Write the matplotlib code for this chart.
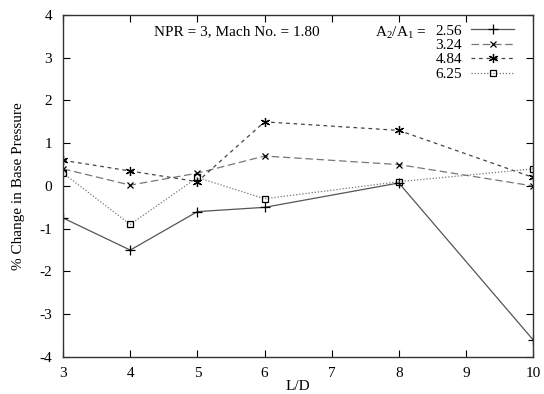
import matplotlib
matplotlib.use("Agg")
import matplotlib.pyplot as plt

plt.rcParams["font.family"] = ["Liberation Serif", "DejaVu Serif"]
plt.rcParams["mathtext.fontset"] = "custom"
plt.rcParams["mathtext.rm"] = "Liberation Serif"
plt.rcParams["axes.unicode_minus"] = False

ld = [3, 4, 5, 6, 8, 10]
area_ratios = ["2.56", "3.24", "4.84", "6.25"]
dp_256 = [-0.75, -1.5, -0.6, -0.5, 0.07, -3.6]
dp_324 = [0.4, 0.02, 0.3, 0.7, 0.5, 0.0]
dp_484 = [0.6, 0.35, 0.1, 1.5, 1.3, 0.2]
dp_625 = [0.3, -0.9, 0.2, -0.3, 0.1, 0.4]

fig = plt.figure(figsize=(5.44, 3.94), dpi=100)
ax = fig.add_axes([0.116, 0.094, 0.864, 0.868])

series = [dp_256, dp_324, dp_484, dp_625]
styles = [
    dict(ls="-", marker="+", ms=7, color="#555555"),
    dict(ls=(0, (6, 3)), marker="x", ms=4.5, color="#777777"),
    dict(ls=(0, (3, 3)), marker=(6, 2, 0), ms=6.5, color="#444444"),
    dict(ls=(0, (1, 1.5)), marker="s", ms=5, mfc="none", color="#777777"),
]
for vals, lab, st in zip(series, area_ratios, styles):
    ax.plot(ld, vals, lw=0.9, mec="black", mew=0.9, label=lab, **st)

ax.set_xlim(3, 10)
ax.set_ylim(-4, 4)
ax.set_xticks(range(3, 11))
ax.set_yticks(range(-4, 5))
ax.tick_params(direction="in", top=True, right=True, length=5, labelsize=11)
ax.tick_params(axis="x", pad=7)
ax.tick_params(axis="y", pad=8)
for s in ax.spines.values():
    s.set_linewidth(1.0)
    s.set_color("#333333")
ax.set_xlabel("L/D", fontsize=11, labelpad=0)
ax.set_ylabel("% Change in Base Pressure", fontsize=11, labelpad=10)

ax.text(5.58, 3.6, "NPR = 3, Mach No. = 1.80", ha="center", va="center", fontsize=11)

leg = ax.legend(loc="upper right", markerfirst=False, frameon=False, fontsize=11,
                handlelength=2.8, labelspacing=0.05, borderaxespad=0.85,
                handletextpad=0.6, bbox_to_anchor=(1.0, 1.03))

# put "A2/A1 =" just left of the first legend label
fig.canvas.draw()
bb = leg.get_texts()[0].get_window_extent()
x0, yc = ax.transAxes.inverted().transform((bb.x0 - 9, (bb.y0 + bb.y1) / 2 - 2))
ax.text(x0, yc, "A$_2$/A$_1$ =", transform=ax.transAxes,
        ha="right", va="center", fontsize=11)

fig.savefig("out.png", dpi=100)
